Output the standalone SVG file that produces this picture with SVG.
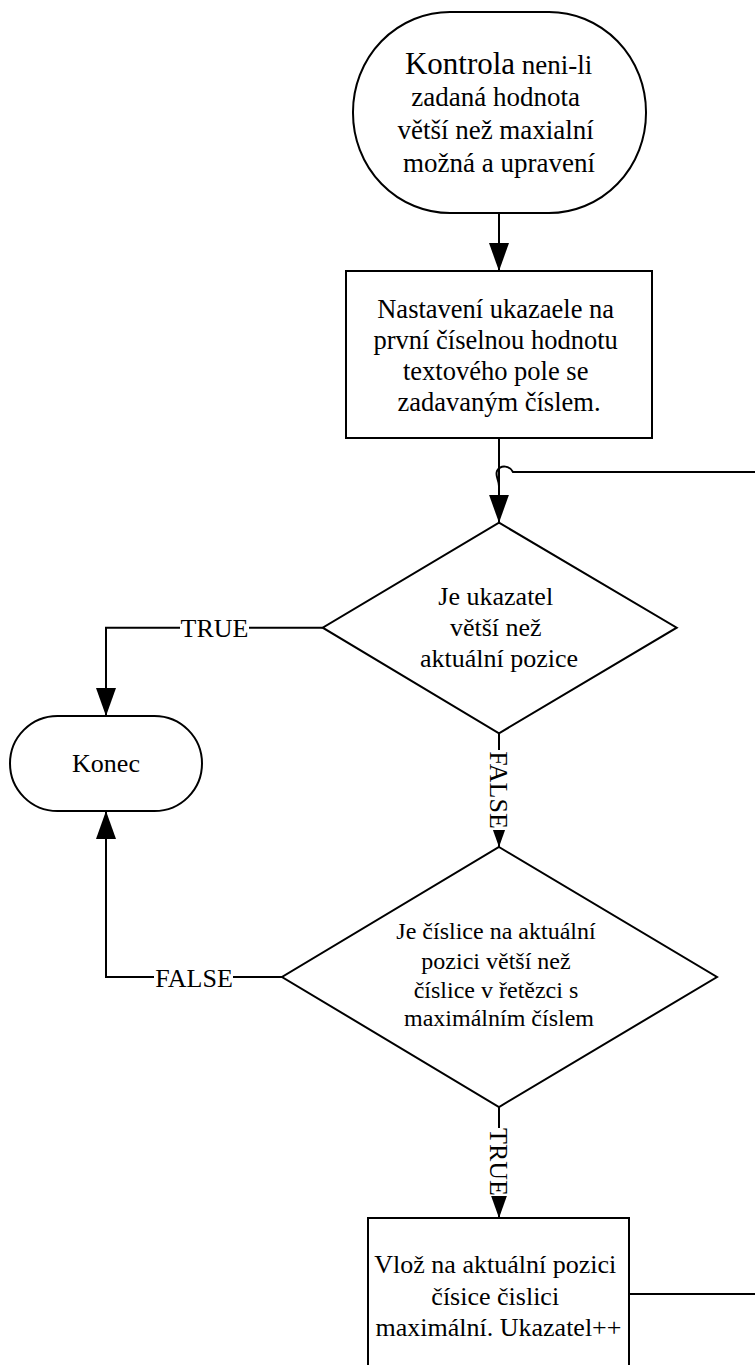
<svg xmlns="http://www.w3.org/2000/svg" width="755" height="1365" viewBox="0 0 755 1365">
  <style>
    .shape { fill: #ffffff; stroke: #000000; stroke-width: 2; }
    .line { fill: none; stroke: #000000; stroke-width: 2; }
    .txt { font-family: "Liberation Serif", "Times New Roman", serif; fill: #000000; text-anchor: middle; }
    .lbl { font-family: "Liberation Serif", "Times New Roman", serif; font-size: 26px; fill: #000000; text-anchor: middle; }
    .lblbg { fill: #ffffff; stroke: none; }
  </style>
  <defs>
    <marker id="arrow" markerUnits="userSpaceOnUse" viewBox="0 0 28 20" refX="28" refY="10" markerWidth="28" markerHeight="20" orient="auto">
      <path d="M0,0 L28,10 L0,20 Z" fill="#000000"/>
    </marker>
  </defs>
  <rect width="755" height="1365" fill="#ffffff"/>

  <!-- connectors -->
  <g id="connectors">
    <path class="line" d="M499,213 V271" marker-end="url(#arrow)"/>
    <path class="line" d="M499,438 V522.7" marker-end="url(#arrow)"/>
    <!-- loop back from the last step, hopping onto the main line -->
    <path class="line" d="M629,1294 H770 V472 H513 C510,466 501,464 497,471 C495,476 499,480 499,486"/>
    <path class="line" d="M322.7,627.7 H106 V716" marker-end="url(#arrow)"/>
    <path class="line" d="M499,733.3 V847" marker-end="url(#arrow)"/>
    <path class="line" d="M282,977 H106 V811" marker-end="url(#arrow)"/>
    <path class="line" d="M499,1107 V1218" marker-end="url(#arrow)"/>

    <!-- edge labels -->
    <g id="lbl-true-left">
      <rect class="lblbg" x="180" y="617" width="69" height="23"/>
      <text class="lbl" x="214.5" y="637">TRUE</text>
    </g>
    <g id="lbl-false-down" transform="translate(499,790) rotate(90)">
      <rect class="lblbg" x="-40" y="-10" width="80" height="20"/>
      <text class="lbl" x="0" y="9">FALSE</text>
    </g>
    <g id="lbl-false-left">
      <rect class="lblbg" x="154" y="966" width="79" height="23"/>
      <text class="lbl" x="194" y="986.5">FALSE</text>
    </g>
    <g id="lbl-true-down" transform="translate(499,1162) rotate(90)">
      <rect class="lblbg" x="-34" y="-10" width="68" height="20"/>
      <text class="lbl" x="0" y="9">TRUE</text>
    </g>
  </g>

  <!-- start: check of the entered value -->
  <g id="node-start">
    <rect class="shape" x="353" y="12" width="293" height="201" rx="97" ry="100"/>
    <text class="txt" font-size="27">
      <tspan x="502" y="74"><tspan font-size="31">Kontrola</tspan> neni-li</tspan>
      <tspan x="499" y="106">zadaná hodnota</tspan>
      <tspan x="499" y="139">větší než maxialní</tspan>
      <tspan x="499" y="172">možná a upravení</tspan>
    </text>
  </g>

  <!-- set pointer -->
  <g id="node-set-pointer">
    <rect class="shape" x="346" y="271" width="306" height="167"/>
    <text class="txt" font-size="26.5">
      <tspan x="499" y="318">Nastavení ukazaele na</tspan>
      <tspan x="499" y="349">první číselnou hodnotu</tspan>
      <tspan x="499" y="380">textového pole se</tspan>
      <tspan x="499" y="411">zadavaným číslem.</tspan>
    </text>
  </g>

  <!-- decision 1 -->
  <g id="node-pointer-check">
    <polygon class="shape" points="499,522.7 676.7,627.7 499,733.3 322.7,627.7"/>
    <text class="txt" font-size="26">
      <tspan x="499" y="605">Je ukazatel</tspan>
      <tspan x="499" y="636">větší než</tspan>
      <tspan x="499" y="667">aktuální pozice</tspan>
    </text>
  </g>

  <!-- end -->
  <g id="node-end">
    <rect class="shape" x="10" y="716" width="192" height="95" rx="47.5" ry="47.5"/>
    <text class="txt" font-size="26" x="106" y="772">Konec</text>
  </g>

  <!-- decision 2 -->
  <g id="node-digit-check">
    <polygon class="shape" points="499,847 717,977 499,1107 282,977"/>
    <text class="txt" font-size="24">
      <tspan x="499" y="939">Je číslice na aktuální</tspan>
      <tspan x="499" y="969">pozici větší než</tspan>
      <tspan x="499" y="998">číslice v řetězci s</tspan>
      <tspan x="499" y="1026">maximálním číslem</tspan>
    </text>
  </g>

  <!-- replace digit -->
  <g id="node-replace">
    <rect class="shape" x="368" y="1218" width="261" height="200"/>
    <text class="txt" font-size="26">
      <tspan x="498.5" y="1273">Vlož na aktuální pozici</tspan>
      <tspan x="498.5" y="1305">čísice čislici</tspan>
      <tspan x="498.5" y="1336">maximální. Ukazatel++</tspan>
    </text>
  </g>
</svg>
